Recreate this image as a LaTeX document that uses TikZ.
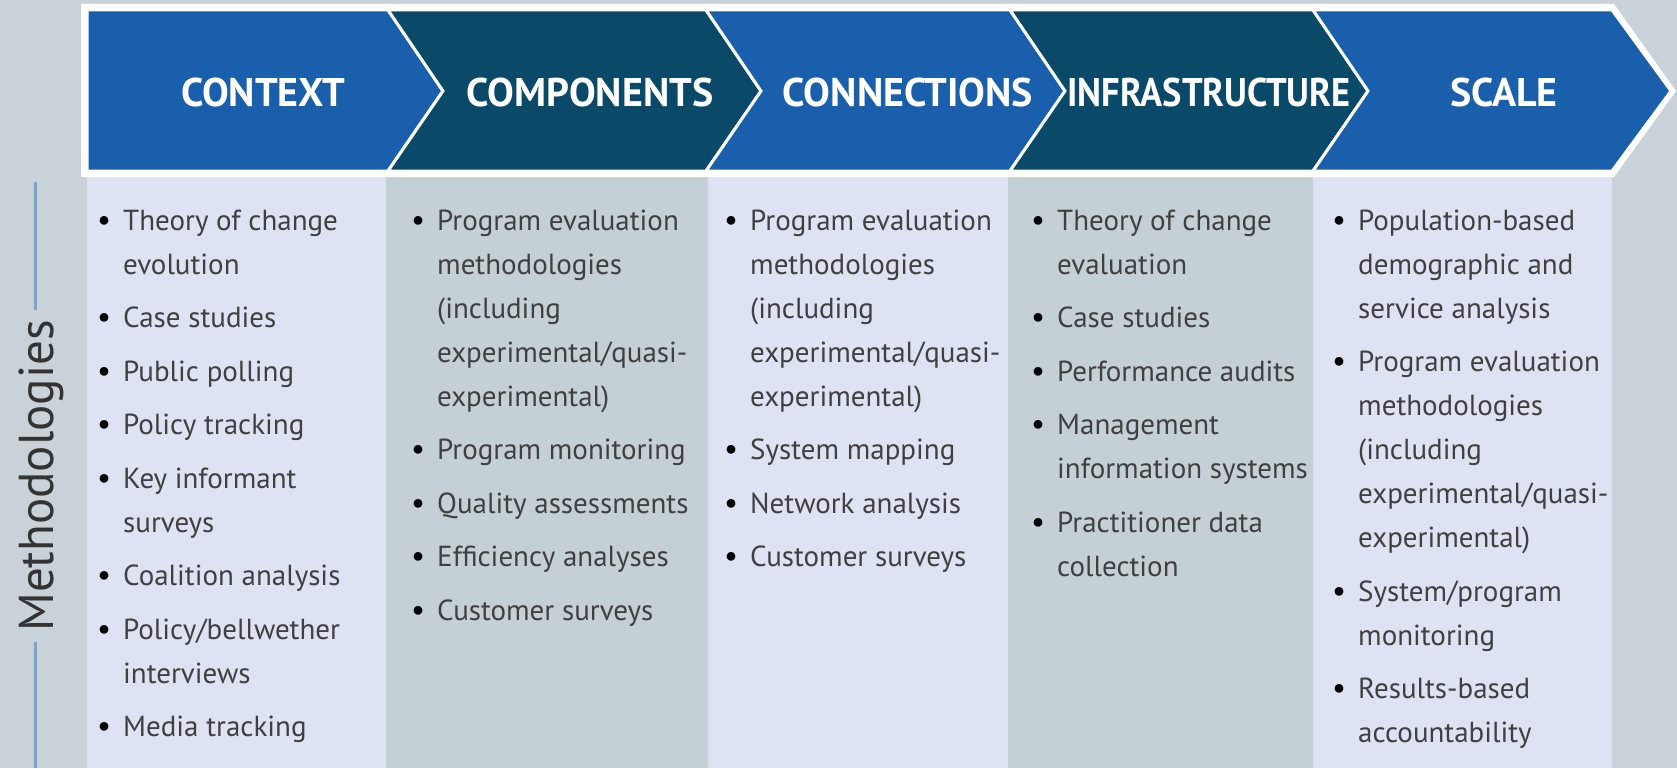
\documentclass[tikz,border=0pt]{standalone}
\usepackage{fontspec}
\setmainfont{PT Sans}
\definecolor{bgc}{HTML}{C8D2D8}
\definecolor{colgray}{HTML}{C5CFD6}
\definecolor{collight}{HTML}{DEE3F3}
\definecolor{chblue}{HTML}{1A5FAB}
\definecolor{chdark}{HTML}{0A4968}
\definecolor{mline}{HTML}{7CA4D0}
\definecolor{txt}{HTML}{404040}
\newlength\ig
\setlength\ig{9.5pt}
\newcommand\bl{\llap{\makebox[38pt][c]{\color{black}\fontsize{31}{31}\selectfont\textbullet}}}
\begin{document}
\begin{tikzpicture}[x=1pt,y=-1pt,
  chev/.style={line width=3pt, draw=white, line join=miter},
  head/.style={font=\fontsize{40}{48}\selectfont\bfseries, text=white, inner sep=0pt, anchor=base},
  body/.style={font=\fontsize{29}{44}\selectfont, text=txt, inner sep=0pt, anchor=base west},
  mlabel/.style={font=\fontsize{49}{55}\selectfont, text=black!80, inner sep=0pt, anchor=base, rotate=90},
  mrule/.style={draw=mline, line width=3pt}]
\useasboundingbox (0,0) rectangle (1677,768);
\fill[bgc] (0,0) rectangle (1677,768);
% columns
\fill[collight] (87,177) rectangle (386,768);
\fill[colgray]  (386,177) rectangle (708,768);
\fill[collight] (708,177) rectangle (1008,768);
\fill[colgray]  (1008,177) rectangle (1313,768);
\fill[collight] (1313,177) rectangle (1612,768);
% header frame
\fill[white] (81,4) -- (1614,4) -- (1676,91) -- (1614,177) -- (81,177) -- cycle;
% chevrons
\filldraw[chev, fill=chblue] (87,10) -- (388,10) -- (443,91) -- (388,171) -- (87,171) -- cycle;
\filldraw[chev, fill=chdark] (388,10) -- (706,10) -- (761,91) -- (706,171) -- (388,171) -- (443,91) -- cycle;
\filldraw[chev, fill=chblue] (706,10) -- (1010,10) -- (1065,91) -- (1010,171) -- (706,171) -- (761,91) -- cycle;
\filldraw[chev, fill=chdark] (1010,10) -- (1313,10) -- (1368,91) -- (1313,171) -- (1010,171) -- (1065,91) -- cycle;
\filldraw[chev, fill=chblue] (1313,10) -- (1612,10) -- (1671,91) -- (1612,171) -- (1313,171) -- (1368,91) -- cycle;
% header labels
\node[head] (hctx) at (263,106) {CONTEXT};
\node[head] (hcmp) at (590,106) {COMPONENTS};
\node[head] (hcon) at (908,106) {CONNECTIONS};
\node[head] (hinf) at (1209,106) {\scalebox{0.91}[1]{INFRASTRUCTURE}};
\node[head] (hsca) at (1504,106) {SCALE};
% methodologies label
\node[mlabel] (meth) at (53,476) {Methodologies};
\coordinate (m1) at (35,182);
\coordinate (m2) at (35,310);
\coordinate (m3) at (35,642);
\coordinate (m4) at (35,768);
\draw[mrule] (m1) -- (m2);
\draw[mrule] (m3) -- (m4);
% column texts
\node[body] (col1) at (123,230) {\begin{tabular}[t]{@{}l@{}}
\bl Theory of change\\ evolution\\[\ig]
\bl Case studies\\[\ig]
\bl Public polling\\[\ig]
\bl Policy tracking\\[\ig]
\bl Key informant\\ surveys\\[\ig]
\bl Coalition analysis\\[\ig]
\bl Policy/bellwether\\ interviews\\[\ig]
\bl Media tracking
\end{tabular}};
\node[body] (col2) at (437,230) {\begin{tabular}[t]{@{}l@{}}
\bl Program evaluation\\ methodologies\\ (including\\ experimental/quasi-\\ experimental)\\[\ig]
\bl Program monitoring\\[\ig]
\bl Quality assessments\\[\ig]
\bl Efficiency analyses\\[\ig]
\bl Customer surveys
\end{tabular}};
\node[body] (col3) at (750,230) {\begin{tabular}[t]{@{}l@{}}
\bl Program evaluation\\ methodologies\\ (including\\ experimental/quasi-\\ experimental)\\[\ig]
\bl System mapping\\[\ig]
\bl Network analysis\\[\ig]
\bl Customer surveys
\end{tabular}};
\node[body] (col4) at (1057,230) {\begin{tabular}[t]{@{}l@{}}
\bl Theory of change\\ evaluation\\[\ig]
\bl Case studies\\[\ig]
\bl Performance audits\\[\ig]
\bl Management\\ information systems\\[\ig]
\bl Practitioner data\\ collection
\end{tabular}};
\node[body] (col5) at (1358,230) {\begin{tabular}[t]{@{}l@{}}
\bl Population-based\\ demographic and\\ service analysis\\[\ig]
\bl Program evaluation\\ methodologies\\ (including\\ experimental/quasi-\\ experimental)\\[\ig]
\bl System/program\\ monitoring\\[\ig]
\bl Results-based\\ accountability
\end{tabular}};
\end{tikzpicture}
\end{document}
